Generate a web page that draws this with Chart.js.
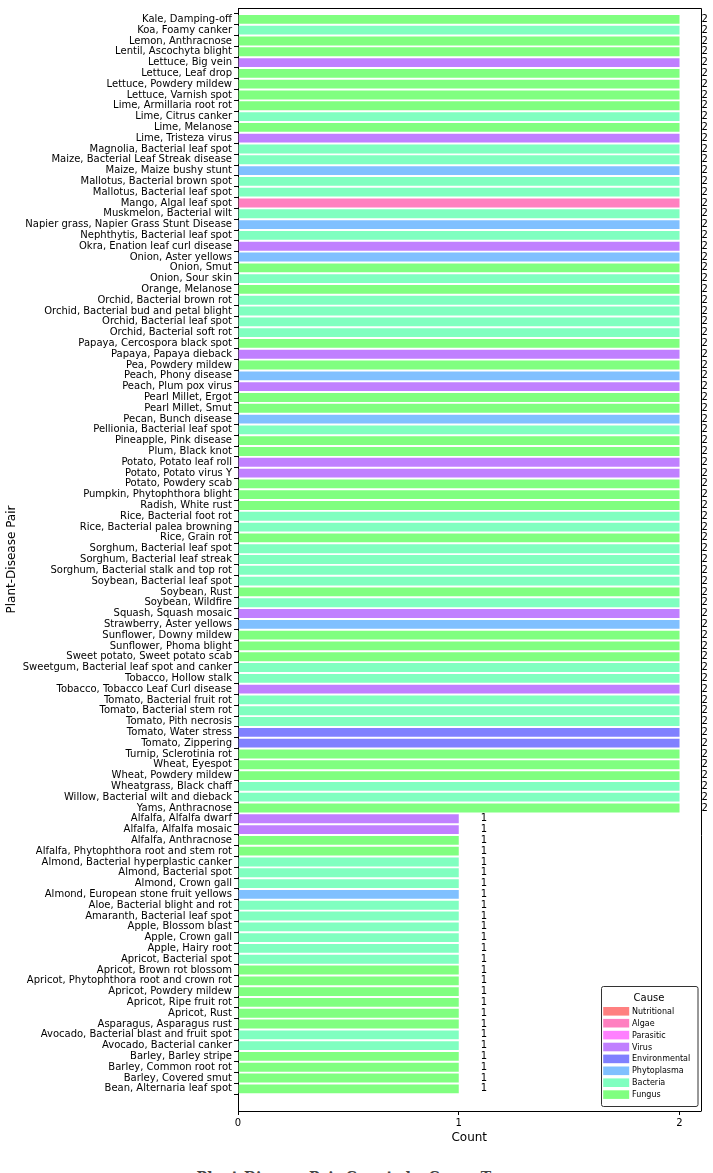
<!DOCTYPE html>
<html>
<head>
<meta charset="utf-8">
<script src="https://cdn.jsdelivr.net/npm/chart.js@4.4.1/dist/chart.umd.min.js"></script>
<style>
  html, body { margin: 0; padding: 0; background: #fff; overflow: hidden; width: 713px; height: 1173px; }
  #wrap { position: absolute; left: 0; top: 0; width: 713px; height: 1150px; }
  #title { position: absolute; left: 0; width: 713px; top: 1170px; text-align: center;
    font-family: "DejaVu Serif", serif; font-weight: bold; font-size: 14px; line-height: 14px; color: #444; white-space: nowrap; }
</style>
</head>
<body>
<div id="wrap"><canvas id="c" width="713" height="1150"></canvas></div>
<div id="title">Plant-Disease Pair Counts by Cause Type</div>
<script>
const pairs = [
  "Kale, Damping-off","Koa, Foamy canker","Lemon, Anthracnose","Lentil, Ascochyta blight","Lettuce, Big vein",
  "Lettuce, Leaf drop","Lettuce, Powdery mildew","Lettuce, Varnish spot","Lime, Armillaria root rot","Lime, Citrus canker",
  "Lime, Melanose","Lime, Tristeza virus","Magnolia, Bacterial leaf spot","Maize, Bacterial Leaf Streak disease","Maize, Maize bushy stunt",
  "Mallotus, Bacterial brown spot","Mallotus, Bacterial leaf spot","Mango, Algal leaf spot","Muskmelon, Bacterial wilt","Napier grass, Napier Grass Stunt Disease",
  "Nephthytis, Bacterial leaf spot","Okra, Enation leaf curl disease","Onion, Aster yellows","Onion, Smut","Onion, Sour skin",
  "Orange, Melanose","Orchid, Bacterial brown rot","Orchid, Bacterial bud and petal blight","Orchid, Bacterial leaf spot","Orchid, Bacterial soft rot",
  "Papaya, Cercospora black spot","Papaya, Papaya dieback","Pea, Powdery mildew","Peach, Phony disease","Peach, Plum pox virus",
  "Pearl Millet, Ergot","Pearl Millet, Smut","Pecan, Bunch disease","Pellionia, Bacterial leaf spot","Pineapple, Pink disease",
  "Plum, Black knot","Potato, Potato leaf roll","Potato, Potato virus Y","Potato, Powdery scab","Pumpkin, Phytophthora blight",
  "Radish, White rust","Rice, Bacterial foot rot","Rice, Bacterial palea browning","Rice, Grain rot","Sorghum, Bacterial leaf spot",
  "Sorghum, Bacterial leaf streak","Sorghum, Bacterial stalk and top rot","Soybean, Bacterial leaf spot","Soybean, Rust","Soybean, Wildfire",
  "Squash, Squash mosaic","Strawberry, Aster yellows","Sunflower, Downy mildew","Sunflower, Phoma blight","Sweet potato, Sweet potato scab",
  "Sweetgum, Bacterial leaf spot and canker","Tobacco, Hollow stalk","Tobacco, Tobacco Leaf Curl disease","Tomato, Bacterial fruit rot","Tomato, Bacterial stem rot",
  "Tomato, Pith necrosis","Tomato, Water stress","Tomato, Zippering","Turnip, Sclerotinia rot","Wheat, Eyespot",
  "Wheat, Powdery mildew","Wheatgrass, Black chaff","Willow, Bacterial wilt and dieback","Yams, Anthracnose",
  "Alfalfa, Alfalfa dwarf","Alfalfa, Alfalfa mosaic","Alfalfa, Anthracnose","Alfalfa, Phytophthora root and stem rot","Almond, Bacterial hyperplastic canker",
  "Almond, Bacterial spot","Almond, Crown gall","Almond, European stone fruit yellows","Aloe, Bacterial blight and rot","Amaranth, Bacterial leaf spot",
  "Apple, Blossom blast","Apple, Crown gall","Apple, Hairy root","Apricot, Bacterial spot","Apricot, Brown rot blossom",
  "Apricot, Phytophthora root and crown rot","Apricot, Powdery mildew","Apricot, Ripe fruit rot","Apricot, Rust","Asparagus, Asparagus rust",
  "Avocado, Bacterial blast and fruit spot","Avocado, Bacterial canker","Barley, Barley stripe","Barley, Common root rot","Barley, Covered smut",
  "Bean, Alternaria leaf spot"
];
const counts = [
  2,2,2,2,2, 2,2,2,2,2, 2,2,2,2,2, 2,2,2,2,2, 2,2,2,2,2, 2,2,2,2,2,
  2,2,2,2,2, 2,2,2,2,2, 2,2,2,2,2, 2,2,2,2,2, 2,2,2,2,2, 2,2,2,2,2,
  2,2,2,2,2, 2,2,2,2,2, 2,2,2,2,
  1,1,1,1,1, 1,1,1,1,1, 1,1,1,1,1, 1,1,1,1,1, 1,1,1,1,1, 1
];
const causes = [
  "Fungus","Bacteria","Fungus","Fungus","Virus",
  "Fungus","Fungus","Fungus","Fungus","Bacteria",
  "Fungus","Virus","Bacteria","Bacteria","Phytoplasma",
  "Bacteria","Bacteria","Algae","Bacteria","Phytoplasma",
  "Bacteria","Virus","Phytoplasma","Fungus","Bacteria",
  "Fungus","Bacteria","Bacteria","Bacteria","Bacteria",
  "Fungus","Virus","Fungus","Phytoplasma","Virus",
  "Fungus","Fungus","Phytoplasma","Bacteria","Fungus",
  "Fungus","Virus","Virus","Fungus","Fungus",
  "Fungus","Bacteria","Bacteria","Fungus","Bacteria",
  "Bacteria","Bacteria","Bacteria","Fungus","Bacteria",
  "Virus","Phytoplasma","Fungus","Fungus","Fungus",
  "Bacteria","Bacteria","Virus","Bacteria","Bacteria",
  "Bacteria","Environmental","Environmental","Fungus","Fungus",
  "Fungus","Bacteria","Bacteria","Fungus",
  "Virus","Virus","Fungus","Fungus","Bacteria",
  "Bacteria","Bacteria","Phytoplasma","Bacteria","Bacteria",
  "Bacteria","Bacteria","Bacteria","Bacteria","Fungus",
  "Fungus","Fungus","Fungus","Fungus","Fungus",
  "Bacteria","Bacteria","Fungus","Fungus","Fungus",
  "Fungus"
];
const causeNames = ["Nutritional","Algae","Parasitic","Virus","Environmental","Phytoplasma","Bacteria","Fungus"];
const causeColors = ["#ff8080","#ff80c0","#ff80ff","#c080ff","#8080ff","#80c0ff","#80ffc0","#80ff80"];
const xTicks = [0, 1, 2];

const colorOf = c => causeColors[causeNames.indexOf(c)];
const FONT = "'DejaVu Sans', sans-serif";

const valueLabels = {
  id: 'valueLabels',
  afterDatasetsDraw(chart) {
    const ctx = chart.ctx, xs = chart.scales.x, ys = chart.scales.y;
    ctx.save();
    ctx.font = "10px " + FONT;
    ctx.fillStyle = "#000";
    ctx.textAlign = "left";
    ctx.textBaseline = "middle";
    counts.forEach((v, i) => {
      ctx.fillText(String(v), xs.getPixelForValue(v + 0.1), ys.getPixelForValue(i));
    });
    ctx.restore();
  }
};

const frame = {
  id: 'frame',
  afterDraw(chart) {
    const a = chart.chartArea, ctx = chart.ctx;
    ctx.save();
    ctx.strokeStyle = "#000";
    ctx.lineWidth = 1;
    ctx.beginPath();
    ctx.moveTo(Math.round(a.left) + 0.5, Math.round(a.top) + 0.5);
    ctx.lineTo(Math.round(a.right) + 0.5, Math.round(a.top) + 0.5);
    ctx.lineTo(Math.round(a.right) + 0.5, Math.round(a.bottom) + 0.5);
    ctx.stroke();
    ctx.restore();
  }
};

const causeLegend = {
  id: 'causeLegend',
  afterDraw(chart) {
    const a = chart.chartArea, ctx = chart.ctx;
    const w = 96.5, h = 120;
    const x0 = a.right - 3.5 - w, y0 = a.bottom - 4.7 - h;
    ctx.save();
    ctx.fillStyle = "rgba(255,255,255,0.8)";
    ctx.strokeStyle = "#333";
    ctx.lineWidth = 1;
    ctx.beginPath();
    ctx.roundRect(Math.round(x0) + 0.5, Math.round(y0) + 0.5, w, h, 2);
    ctx.fill();
    ctx.stroke();
    ctx.fillStyle = "#000";
    ctx.font = "10px " + FONT;
    ctx.textAlign = "center";
    ctx.textBaseline = "middle";
    ctx.fillText("Cause", x0 + 48.5, y0 + 12.5);
    ctx.font = "8px " + FONT;
    ctx.textAlign = "left";
    causeNames.forEach((n, i) => {
      const cy = y0 + 25 + i * 11.9;
      ctx.fillStyle = causeColors[i];
      ctx.fillRect(x0 + 2.7, cy - 4.3, 26, 8.6);
      ctx.fillStyle = "#000";
      ctx.fillText(n, x0 + 31.5, cy + 0.5);
    });
    ctx.restore();
  }
};

new Chart(document.getElementById('c'), {
  type: 'bar',
  data: {
    datasets: [{
      label: 'Count',
      data: counts.map((v, i) => ({ x: v, y: i })),
      backgroundColor: causes.map(colorOf),
      borderWidth: 0,
      barPercentage: 0.82,
      categoryPercentage: 1.0
    }]
  },
  options: {
    indexAxis: 'y',
    responsive: false,
    animation: false,
    events: [],
    layout: { padding: { top: 7, right: 12.5, left: 0, bottom: 0 } },
    plugins: { legend: { display: false }, tooltip: { enabled: false }, title: { display: false } },
    scales: {
      x: {
        type: 'linear',
        min: 0,
        max: 2.095,
        afterBuildTicks(scale) { scale.ticks = xTicks.map(v => ({ value: v })); },
        afterFit(scale) { scale.height = 39; },
        ticks: { font: { family: FONT, size: 10 }, color: '#000', padding: 2, maxRotation: 0 },
        grid: { drawOnChartArea: false, drawTicks: true, tickLength: 4, color: '#000' },
        border: { display: true, color: '#000', width: 1 },
        title: { display: true, text: 'Count', font: { family: FONT, size: 12 }, color: '#000', padding: { top: 0, bottom: 5 } }
      },
      y: {
        type: 'linear',
        offset: false,
        reverse: true,
        min: -1.05,
        max: 101.05,
        afterBuildTicks(scale) { scale.ticks = pairs.map((_, i) => ({ value: i })); },
        afterFit(scale) { scale.width = 238; },
        ticks: {
          autoSkip: false,
          font: { family: FONT, size: 10 },
          color: '#000',
          padding: 2,
          callback: (v) => pairs[v]
        },
        grid: { drawOnChartArea: false, drawTicks: true, tickLength: 4, color: '#000' },
        border: { display: true, color: '#000', width: 1 },
        title: { display: true, text: 'Plant-Disease Pair', font: { family: FONT, size: 12 }, color: '#000', padding: { top: 5, bottom: 0 } }
      }
    }
  },
  plugins: [valueLabels, frame, causeLegend]
});
</script>
</body>
</html>
